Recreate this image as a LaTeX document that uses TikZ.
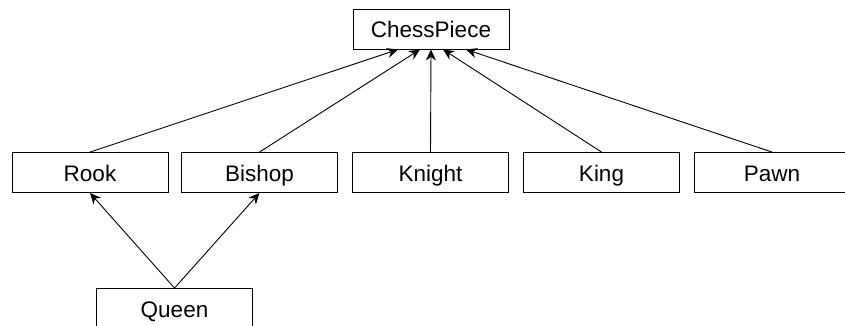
\documentclass[tikz,border=0pt]{standalone}
\usepackage{fontspec}
\setmainfont{Liberation Sans}
\usetikzlibrary{arrows.meta}
\begin{document}
\begin{tikzpicture}[x=1pt,y=-1pt,
  cls/.style={draw, line width=0.9pt, minimum width=156pt, minimum height=40pt, inner sep=0pt, text height=17pt, text depth=0pt, font=\fontsize{22.5}{26}\selectfont},
  inh/.style={-{Stealth[length=11pt,width=10pt]}, line width=0.9pt}]
\useasboundingbox (0,0) rectangle (845,325);
\node[cls] (cp) at (431,29) {ChessPiece};
\node[cls] (rook) at (90,172.5) {Rook};
\node[cls] (bishop) at (259.5,172.5) {Bishop};
\node[cls] (knight) at (430.5,172.5) {Knight};
\node[cls] (king) at (601.5,172.5) {King};
\node[cls] (pawn) at (772,172.5) {Pawn};
\node[cls] (queen) at (174.5,308.5) {Queen};
\draw[inh] (rook.north) -- ([xshift=-33pt]cp.south);
\draw[inh] (bishop.north) -- ([xshift=-11pt]cp.south);
\draw[inh] (knight.north) -- (cp.south);
\draw[inh] (king.north) -- ([xshift=12pt]cp.south);
\draw[inh] (pawn.north) -- ([xshift=35pt]cp.south);
\draw[inh] (queen.north) -- (rook.south);
\draw[inh] (queen.north) -- (bishop.south);
\end{tikzpicture}
\end{document}
